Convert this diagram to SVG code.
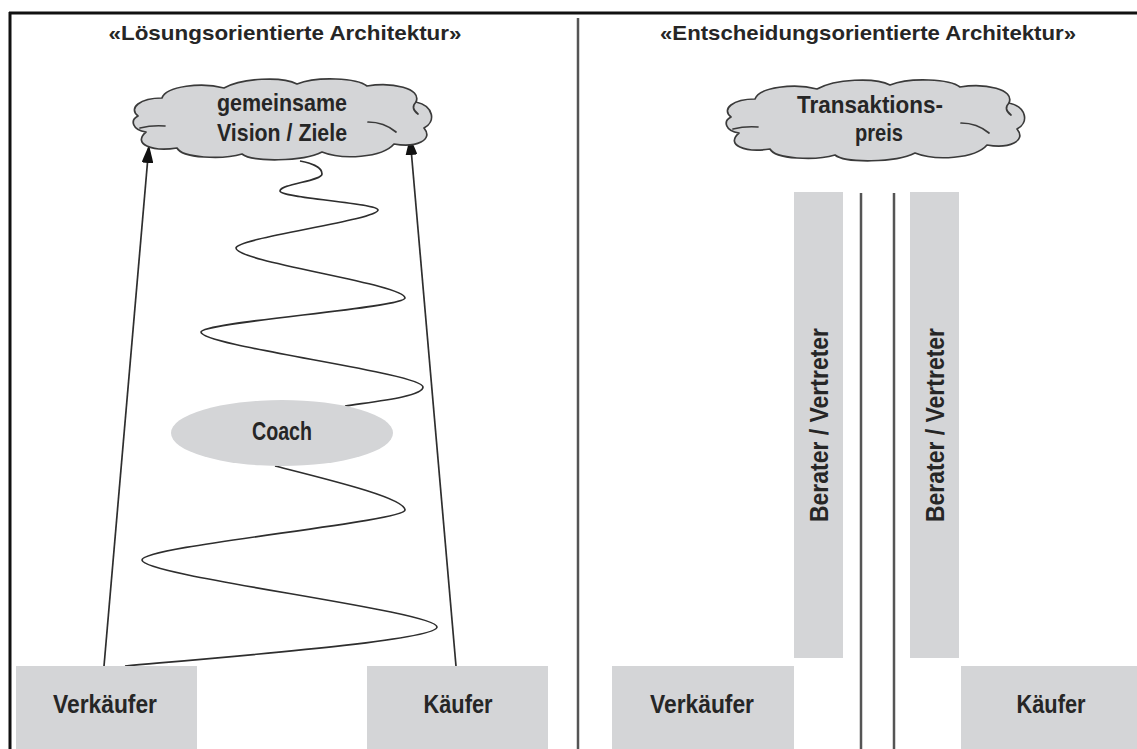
<svg xmlns="http://www.w3.org/2000/svg" xmlns:xlink="http://www.w3.org/1999/xlink" width="1137" height="749" viewBox="0 0 1137 749">
<style>
  .box { fill: #d4d5d7; stroke: none; }
  .lbl { font-family: "Liberation Sans", Arial, sans-serif; font-weight: 700; fill: #262626; text-anchor: middle; }
  .title { font-size: 21px; }
  .node { font-size: 25px; }
  .cl { font-size: 24px; }
  .cloud { fill: #d4d5d7; stroke: #3a3a3a; stroke-width: 1.7; stroke-linejoin: round; }
  .curl { fill: none; stroke: #3a3a3a; stroke-width: 1.7; stroke-linecap: round; }
  .wire { fill: none; stroke: #2e2e2e; stroke-width: 1.7; }
  .frame { stroke: #111; stroke-width: 3; fill: none; }
  .rule { stroke: #555; stroke-width: 2.5; fill: none; }
</style>
<defs>
  <marker id="arrow" viewBox="0 0 18 12" markerWidth="18" markerHeight="12" refX="18" refY="6" orient="auto" markerUnits="userSpaceOnUse">
    <path d="M0,0 L18,6 L0,12 Z" fill="#111"/>
  </marker>
  <g id="cloudShape">
    <path class="cloud" d="M6,38 C-4,30 8,20 30,20 C34,8 70,4 92,10 C110,0 150,-2 165,6 C185,-2 225,0 235,8 C260,4 290,10 284,24 C302,28 304,44 292,50 C302,62 284,70 262,66 C250,80 210,82 190,74 C170,84 120,84 110,76 C90,82 50,80 45,70 C20,74 0,66 14,54 C0,52 -2,42 6,38 Z"/>
    <path class="curl" d="M8,50 Q20,47 33,48"/>
    <path class="curl" d="M236,44 Q252,44 264,54"/>
    <path class="curl" d="M284,24 Q278,30 286,36"/>
  </g>
</defs>
<rect x="0" y="0" width="1137" height="749" fill="#ffffff"/>

<g id="frame">
  <line class="frame" x1="9" y1="13" x2="1137" y2="13"/>
  <line class="frame" x1="10" y1="12" x2="10" y2="749"/>
  <line class="rule" x1="578" y1="18" x2="578" y2="749"/>
  <line class="rule" x1="861" y1="193" x2="861" y2="749" stroke-width="2"/>
  <line class="rule" x1="894" y1="193" x2="894" y2="749" stroke-width="2"/>
</g>

<g id="title-left">
  <text class="lbl title" x="285" y="40" textLength="353" lengthAdjust="spacingAndGlyphs">«Lösungsorientierte Architektur»</text>
</g>
<g id="title-right">
  <text class="lbl title" x="868" y="40" textLength="416" lengthAdjust="spacingAndGlyphs">«Entscheidungsorientierte Architektur»</text>
</g>

<g id="connectors">
  <path class="wire" d="M300,161 C310,163 322,166 322,174 C322,181 280,184 280,191 C280,198 378,203 378,210 C378,220 236,238 236,248 C236,262 405,284 405,298 C405,308 201,322 201,332 C201,346 423,373 423,387 C423,397 370,402 345,406"/>
  <path class="wire" d="M275,466 C330,480 405,498 405,510 C405,522 142,546 142,560 C142,576 437,611 437,627 C437,640 250,655 125,666"/>
  <line class="wire" x1="104" y1="666" x2="149" y2="145" marker-end="url(#arrow)"/>
  <line class="wire" x1="456" y1="666" x2="410" y2="137" marker-end="url(#arrow)"/>
</g>

<g id="cloud-vision">
  <use xlink:href="#cloudShape" href="#cloudShape" transform="translate(132,78)"/>
  <text class="lbl cl" x="282" y="111" textLength="130" lengthAdjust="spacingAndGlyphs">gemeinsame</text>
  <text class="lbl cl" x="282" y="141" textLength="130" lengthAdjust="spacingAndGlyphs">Vision / Ziele</text>
</g>

<g id="cloud-preis">
  <use xlink:href="#cloudShape" href="#cloudShape" transform="translate(725,79)"/>
  <text class="lbl cl" x="870" y="113" textLength="146" lengthAdjust="spacingAndGlyphs">Transaktions-</text>
  <text class="lbl cl" x="879" y="141" textLength="48" lengthAdjust="spacingAndGlyphs">preis</text>
</g>

<g id="coach">
  <ellipse cx="282" cy="433" rx="111" ry="33" fill="#d4d5d7"/>
  <text class="lbl node" x="282" y="440" textLength="60" lengthAdjust="spacingAndGlyphs">Coach</text>
</g>

<g id="verkaeufer-left">
  <rect class="box" x="16" y="666" width="181" height="83"/>
  <text class="lbl node" x="105" y="713" textLength="104" lengthAdjust="spacingAndGlyphs">Verkäufer</text>
</g>
<g id="kaeufer-left">
  <rect class="box" x="367" y="666" width="181" height="83"/>
  <text class="lbl node" x="458" y="713" textLength="69" lengthAdjust="spacingAndGlyphs">Käufer</text>
</g>

<g id="berater-left">
  <rect class="box" x="794" y="192" width="49" height="466"/>
  <text class="lbl node" transform="translate(828,425) rotate(-90)" x="0" y="0" textLength="194" lengthAdjust="spacingAndGlyphs">Berater / Vertreter</text>
</g>
<g id="berater-right">
  <rect class="box" x="910" y="192" width="49" height="466"/>
  <text class="lbl node" transform="translate(944,425) rotate(-90)" x="0" y="0" textLength="194" lengthAdjust="spacingAndGlyphs">Berater / Vertreter</text>
</g>

<g id="verkaeufer-right">
  <rect class="box" x="612" y="666" width="182" height="83"/>
  <text class="lbl node" x="702" y="713" textLength="104" lengthAdjust="spacingAndGlyphs">Verkäufer</text>
</g>
<g id="kaeufer-right">
  <rect class="box" x="961" y="666" width="176" height="83"/>
  <text class="lbl node" x="1051" y="713" textLength="69" lengthAdjust="spacingAndGlyphs">Käufer</text>
</g>
</svg>
